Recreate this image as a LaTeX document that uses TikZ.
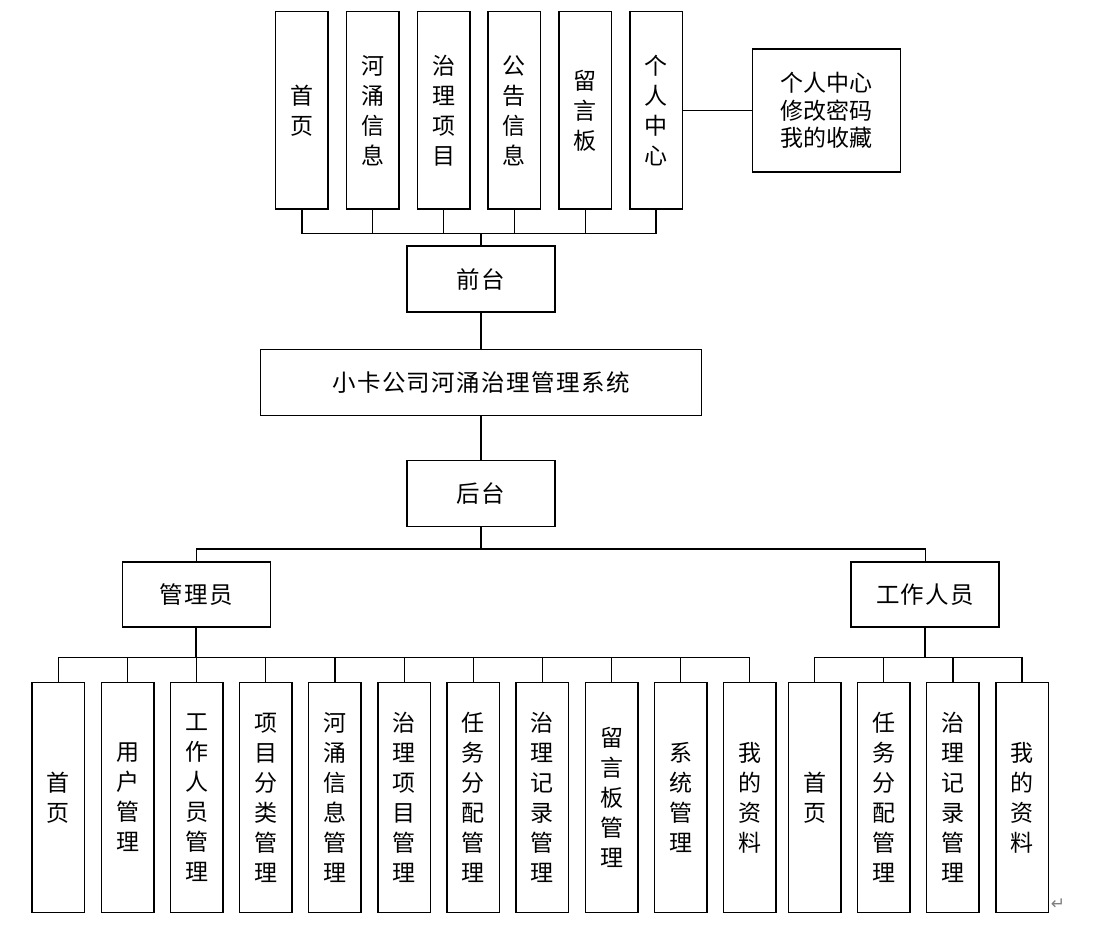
\documentclass[tikz,border=0pt]{standalone}
\usepackage{fontspec}
\newfontfamily\cjk{Noto Sans CJK SC}
\newfontfamily\cjkw[LetterSpace=6]{Noto Sans CJK SC}
\newfontfamily\djv{DejaVu Sans}
\begin{document}
\begin{tikzpicture}[x=1pt,y=-1pt,
  box/.style={draw, line width=1.5pt, inner sep=0pt, align=center},
  col/.style={box, minimum width=52.5pt, font=\cjk\fontsize{23}{30}\selectfont},
  topcol/.style={col, minimum height=197.3pt},
  botcol/.style={col, minimum height=229.6pt},
  hbox/.style={box, minimum width=148pt, minimum height=66pt, font=\cjkw\fontsize{23.5}{27}\selectfont},
  ln/.style={line width=1.2pt},
  stemln/.style={line width=2pt}]
\fill[white] (0,0) rectangle (1094,930);
\useasboundingbox (0,0) rectangle (1094,930);

% top columns
\node[topcol] (t1) at (301.9,110.35) {首\\页};
\node[topcol] (t2) at (372.6,110.35) {河\\涌\\信\\息};
\node[topcol] (t3) at (443.5,110.35) {治\\理\\项\\目};
\node[topcol] (t4) at (514.3,110.35) {公\\告\\信\\息};
\node[topcol] (t5) at (585.1,110.35) {留\\言\\板};
\node[topcol] (t6) at (656,110.35) {个\\人\\中\\心};
\node[box, minimum width=148pt, minimum height=123pt, font=\cjk\fontsize{23}{27.5}\selectfont] (pc) at (826.5,110.35) {个人中心\\修改密码\\我的收藏};

% middle
\node[hbox] (qt) at (481,279.2) {前台};
\node[hbox, minimum width=441pt] (sys) at (481,382.5) {小卡公司河涌治理管理系统};
\node[hbox] (ht) at (481,493.7) {后台};
\node[hbox, minimum height=65pt] (gly) at (196.4,594.7) {管理员};
\node[hbox, minimum height=65pt] (gz) at (925.2,594.7) {工作人员};

% admin columns
\node[botcol] (a1) at (58.35,797.5) {首\\页};
\node[botcol] (a2) at (127.5,797.5) {用\\户\\管\\理};
\node[botcol] (a3) at (196.65,797.5) {工\\作\\人\\员\\管\\理};
\node[botcol] (a4) at (265.8,797.5) {项\\目\\分\\类\\管\\理};
\node[botcol] (a5) at (334.95,797.5) {河\\涌\\信\\息\\管\\理};
\node[botcol] (a6) at (404.1,797.5) {治\\理\\项\\目\\管\\理};
\node[botcol] (a7) at (473.25,797.5) {任\\务\\分\\配\\管\\理};
\node[botcol] (a8) at (542.4,797.5) {治\\理\\记\\录\\管\\理};
\node[botcol] (a9) at (611.55,797.5) {留\\言\\板\\管\\理};
\node[botcol] (a10) at (680.7,797.5) {系\\统\\管\\理};
\node[botcol] (a11) at (749.85,797.5) {我\\的\\资\\料};

% worker columns
\node[botcol] (w1) at (814.7,797.5) {首\\页};
\node[botcol] (w2) at (883.8,797.5) {任\\务\\分\\配\\管\\理};
\node[botcol] (w3) at (952.9,797.5) {治\\理\\记\\录\\管\\理};
\node[botcol] (w4) at (1022,797.5) {我\\的\\资\\料};

\node[font=\djv\fontsize{17}{17}\selectfont, text=gray, inner sep=0pt] (ret) at (1058,904) {↵};

% bus coordinates
\coordinate (fbus) at (481,233.7);
\coordinate (hbus) at (481,549);
\coordinate (abus) at (196.4,657.7);
\coordinate (wbus) at (925.2,657.7);

% connectors top
\draw[ln] (t1.south) |- (t6.south |- fbus) -- (t6.south);
\foreach \n in {t2,t3,t4,t5} \draw[ln] (\n.south) -- (\n.south |- fbus);
\draw[stemln] (qt.north) -- (qt.north |- fbus);
\draw[ln] (t6.east) -- (pc.west);

% connectors middle
\draw[ln] (qt.south) -- (sys.north);
\draw[ln] (sys.south) -- (ht.north);
\draw[stemln] (ht.south) -- (hbus);
\draw[ln] (gly.north) |- (hbus) -| (gz.north);

% connectors bottom
\draw[stemln] (gly.south) -- (abus);
\draw[ln] (a1.north) |- (a11.north |- abus) -- (a11.north);
\foreach \n in {a2,a3,a4,a5,a6,a7,a8,a9,a10} \draw[ln] (\n.north) -- (\n.north |- abus);
\draw[stemln] (gz.south) -- (wbus);
\draw[ln] (w1.north) |- (w4.north |- wbus) -- (w4.north);
\foreach \n in {w2,w3} \draw[ln] (\n.north) -- (\n.north |- wbus);
\end{tikzpicture}
\end{document}
